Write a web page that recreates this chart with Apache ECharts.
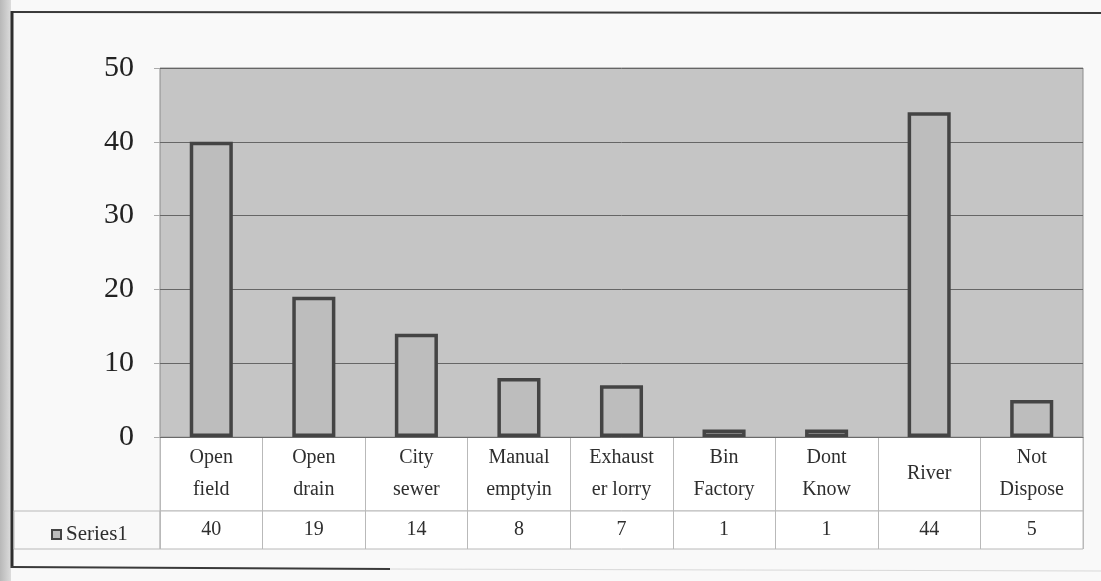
<!DOCTYPE html>
<html>
<head>
<meta charset="utf-8">
<script src="https://cdn.jsdelivr.net/npm/echarts@6/dist/echarts.min.js"></script>
<style>
  html, body { margin: 0; padding: 0; background: #f7f7f7; }
  #chart { width: 1101px; height: 581px; }
</style>
</head>
<body>
<div id="chart"></div>
<script>
// Disposal method categories (two-line labels as in the data table)
const categories = [
  'Open\nfield', 'Open\ndrain', 'City\nsewer', 'Manual\nemptyin', 'Exhaust\ner lorry',
  'Bin\nFactory', 'Dont\nKnow', 'River', 'Not\nDispose'
];
const seriesName = 'Series1';
const values = [40, 19, 14, 8, 7, 1, 1, 44, 5];
const yTicks = [0, 10, 20, 30, 40, 50];

const serif = '"Liberation Serif", "DejaVu Serif", serif';
const chart = echarts.init(document.getElementById('chart'));

const tableAxis = (gridIndex, margin, formatter, size) => ({
  type: 'category',
  gridIndex: gridIndex,
  data: categories,
  position: 'bottom',
  axisLine: { show: false },
  axisTick: { show: false },
  splitLine: { show: true, interval: 0, lineStyle: { color: '#b9b9b9', width: 1 } },
  axisLabel: {
    inside: true,
    interval: 0,
    margin: margin,
    verticalAlign: 'middle',
    align: 'center',
    fontFamily: serif,
    fontSize: size,
    lineHeight: 32,
    color: '#2e2e2e',
    formatter: formatter
  }
});

chart.setOption({
  animation: false,
  backgroundColor: '#f9f9f9',
  legend: {
    data: [seriesName],
    left: 46,
    top: 519,
    icon: 'rect',
    itemWidth: 9,
    itemHeight: 9,
    itemGap: 6,
    textStyle: { fontFamily: serif, fontSize: 21, color: '#2e2e2e' }
  },
  grid: [
    { left: 160, right: 18, top: 68, height: 369, show: true,
      backgroundColor: '#c5c5c5', borderColor: '#8c8c8c', borderWidth: 1 },
    { left: 160, right: 18, top: 437, height: 74, show: true,
      backgroundColor: '#ffffff', borderColor: '#b9b9b9', borderWidth: 1 },
    { left: 160, right: 18, top: 511, height: 38, show: true,
      backgroundColor: '#ffffff', borderColor: '#b9b9b9', borderWidth: 1 }
  ],
  xAxis: [
    { type: 'category', gridIndex: 0, data: categories,
      axisLine: { show: true, lineStyle: { color: '#6a6a6a' } },
      axisTick: { show: false }, axisLabel: { show: false } },
    tableAxis(1, 37, (v) => v, 20),
    tableAxis(2, 19, (v, i) => String(values[i]), 20)
  ],
  yAxis: [
    { type: 'value', gridIndex: 0, min: yTicks[0], max: yTicks[yTicks.length - 1], interval: 10,
      axisLine: { show: false },
      axisTick: { show: true, length: 6, lineStyle: { color: '#aaa' } },
      splitLine: { show: true, lineStyle: { color: '#666', width: 1 } },
      axisLabel: { fontFamily: serif, fontSize: 30, color: '#222', margin: 26 } },
    { type: 'value', gridIndex: 1, show: false },
    { type: 'value', gridIndex: 2, show: false }
  ],
  series: [{
    name: seriesName,
    type: 'bar',
    xAxisIndex: 0,
    yAxisIndex: 0,
    data: values,
    barWidth: '42%',
    itemStyle: { color: '#bdbdbd', borderColor: '#444', borderWidth: 3.5 }
  }],
  graphic: [
    // shaded left edge of the page
    { type: 'rect', left: 0, top: 0, shape: { width: 11, height: 581 },
      style: { fill: new echarts.graphic.LinearGradient(0, 0, 1, 0, [
        { offset: 0, color: '#b8b8b8' }, { offset: 1, color: '#dcdcdc' }]) }, z: -1 },
    // outer chart frame
    { type: 'line', shape: { x1: 12, y1: 12, x2: 1101, y2: 13 },
      style: { stroke: '#3a3a3a', lineWidth: 2 } },
    { type: 'line', shape: { x1: 12, y1: 11, x2: 12, y2: 568 },
      style: { stroke: '#2e2e2e', lineWidth: 3 } },
    { type: 'line', shape: { x1: 11, y1: 567, x2: 390, y2: 569 },
      style: { stroke: '#3a3a3a', lineWidth: 2 } },
    { type: 'line', shape: { x1: 390, y1: 569, x2: 1101, y2: 571 },
      style: { stroke: '#d8d8d8', lineWidth: 1 } },
    // series name cell of the data table
    { type: 'rect', shape: { x: 14, y: 511, width: 146, height: 38 },
      style: { fill: 'none', stroke: '#b9b9b9', lineWidth: 1 }, z: 1 }
  ]
});
</script>
</body>
</html>
